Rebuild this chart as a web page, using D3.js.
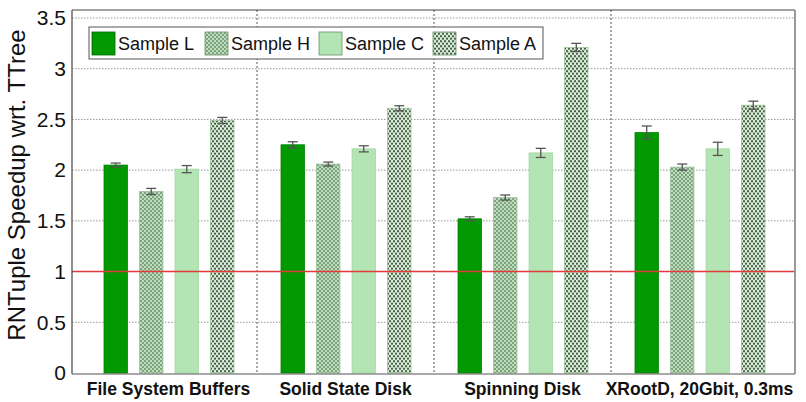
<!DOCTYPE html>
<html>
<head>
<meta charset="utf-8">
<script src="https://cdn.jsdelivr.net/npm/d3@7"></script>
<style>
  html, body { margin: 0; padding: 0; background: #fff; }
  svg { display: block; font-family: "Liberation Sans", Arial, Helvetica, sans-serif; }
</style>
</head>
<body>
<svg id="chart" width="806" height="402"></svg>
<script>
// Storage back-ends (x categories) and sample series
const categories = ["File System Buffers", "Solid State Disk", "Spinning Disk", "XRootD, 20Gbit, 0.3ms"];
const seriesNames = ["Sample L", "Sample H", "Sample C", "Sample A"];

// Speedup per series, one value per category
const sampleL = [2.05, 2.25, 1.52, 2.37];
const sampleH = [1.79, 2.06, 1.73, 2.03];
const sampleC = [2.01, 2.21, 2.17, 2.21];
const sampleA = [2.49, 2.61, 3.21, 2.64];

// Error half-widths per series
const errL = [0.02, 0.03, 0.02, 0.065];
const errH = [0.03, 0.02, 0.025, 0.03];
const errC = [0.035, 0.03, 0.045, 0.065];
const errA = [0.03, 0.025, 0.04, 0.04];

const yTicks = [0, 0.5, 1, 1.5, 2, 2.5, 3, 3.5];
const baseline = 1;

const values = [sampleL, sampleH, sampleC, sampleA];
const errors = [errL, errH, errC, errA];

const svg = d3.select("#chart");
const frame = { left: 72, right: 795, top: 10, bottom: 374 };

const y = d3.scaleLinear().domain([0, 3.5]).range([373, 18]);
const x0 = d3.scaleBand().domain(categories).range([80, 788]).paddingInner(0).paddingOuter(0);
const x1 = d3.scaleBand().domain(seriesNames).range([24, 154]).paddingInner(0.34).paddingOuter(0);

// Fill patterns for the hatched series
const defs = svg.append("defs");
const pH = defs.append("pattern").attr("id", "patH").attr("patternUnits", "userSpaceOnUse")
  .attr("width", 4).attr("height", 4);
pH.append("rect").attr("width", 4).attr("height", 4).attr("fill", "#bfdcbf");
pH.append("circle").attr("cx", 1).attr("cy", 1).attr("r", 0.9).attr("fill", "#5f8a5f");
pH.append("circle").attr("cx", 3).attr("cy", 3).attr("r", 0.9).attr("fill", "#5f8a5f");

const pA = defs.append("pattern").attr("id", "patA").attr("patternUnits", "userSpaceOnUse")
  .attr("width", 4).attr("height", 5);
pA.append("rect").attr("width", 4).attr("height", 5).attr("fill", "#d8ecd8");
pA.append("ellipse").attr("cx", 1).attr("cy", 1.25).attr("rx", 0.95).attr("ry", 1.15).attr("fill", "#304a30");
pA.append("ellipse").attr("cx", 3).attr("cy", 3.75).attr("rx", 0.95).attr("ry", 1.15).attr("fill", "#304a30");

const fills = ["#009a00", "url(#patH)", "#b3e4b3", "url(#patA)"];
const strokes = ["#008000", "#9cc49c", "#a3d8a3", "#9cc49c"];

// Horizontal grid
svg.append("g").selectAll("line").data(yTicks.filter(t => t > 0)).join("line")
  .attr("x1", frame.left).attr("x2", frame.right)
  .attr("y1", d => y(d)).attr("y2", d => y(d))
  .attr("stroke", "#999").attr("stroke-width", 1).attr("stroke-dasharray", "1.5,1.5");

// Vertical dividers between categories
svg.append("g").selectAll("line").data(categories.slice(1)).join("line")
  .attr("x1", d => x0(d)).attr("x2", d => x0(d))
  .attr("y1", frame.top).attr("y2", frame.bottom)
  .attr("stroke", "#555").attr("stroke-width", 1).attr("stroke-dasharray", "2,2");

// Bars
const groups = svg.append("g").selectAll("g").data(categories).join("g")
  .attr("transform", d => `translate(${x0(d)},0)`);

groups.each(function(cat, ci) {
  const g = d3.select(this);
  seriesNames.forEach((s, si) => {
    const v = values[si][ci];
    g.append("rect")
      .attr("x", x1(s)).attr("width", x1.bandwidth())
      .attr("y", y(v)).attr("height", y(0) - y(v))
      .attr("fill", fills[si]).attr("stroke", strokes[si]).attr("stroke-width", 0.8);
  });
});

// Reference line at speedup 1
svg.append("line")
  .attr("x1", frame.left).attr("x2", frame.right)
  .attr("y1", y(baseline)).attr("y2", y(baseline))
  .attr("stroke", "#e23b3b").attr("stroke-width", 1.5);

// Error bars
groups.each(function(cat, ci) {
  const g = d3.select(this);
  seriesNames.forEach((s, si) => {
    const v = values[si][ci], e = errors[si][ci];
    const cx = x1(s) + x1.bandwidth() / 2;
    const eg = g.append("g").attr("stroke", "#555").attr("stroke-width", 1.3);
    eg.append("line").attr("x1", cx).attr("x2", cx).attr("y1", y(v - e)).attr("y2", y(v + e));
    eg.append("line").attr("x1", cx - 5).attr("x2", cx + 5).attr("y1", y(v - e)).attr("y2", y(v - e));
    eg.append("line").attr("x1", cx - 5).attr("x2", cx + 5).attr("y1", y(v + e)).attr("y2", y(v + e));
  });
});

// Frame
svg.append("line").attr("x1", frame.left).attr("x2", frame.right).attr("y1", frame.top).attr("y2", frame.top)
  .attr("stroke", "#444").attr("stroke-width", 1.2);
svg.append("line").attr("x1", frame.left).attr("x2", frame.right).attr("y1", frame.bottom).attr("y2", frame.bottom)
  .attr("stroke", "#555").attr("stroke-width", 1.2);
svg.append("line").attr("x1", frame.left).attr("x2", frame.left).attr("y1", frame.top).attr("y2", frame.bottom)
  .attr("stroke", "#444").attr("stroke-width", 1.2);
svg.append("line").attr("x1", frame.right).attr("x2", frame.right).attr("y1", frame.top).attr("y2", frame.bottom)
  .attr("stroke", "#999").attr("stroke-width", 2);

// Y axis labels
const yAxis = d3.axisLeft(y).tickValues(yTicks).tickSize(0).tickPadding(0)
  .tickFormat(d => d3.format("")(d));
const yg = svg.append("g").attr("transform", `translate(${frame.left - 6},0)`).call(yAxis);
yg.select(".domain").remove();
yg.selectAll("text").attr("font-size", 21).attr("fill", "#111")
  .attr("font-family", "'Liberation Sans', Arial, sans-serif");

svg.append("text")
  .attr("transform", `translate(25,185) rotate(-90)`)
  .attr("text-anchor", "middle").attr("font-size", 24).attr("fill", "#111")
  .text("RNTuple Speedup wrt. TTree");

// X axis labels
const xAxis = d3.axisBottom(x0).tickSize(0).tickPadding(0);
const xg = svg.append("g").attr("transform", `translate(0,${frame.bottom + 6})`).call(xAxis);
xg.select(".domain").remove();
xg.selectAll("text").attr("font-size", 17.5).attr("font-weight", "bold").attr("fill", "#111")
  .attr("font-family", "'Liberation Sans', Arial, sans-serif")
  .attr("dy", "0.85em");

// Legend
const legend = svg.append("g");
legend.append("rect").attr("x", 89).attr("y", 27).attr("width", 454).attr("height", 32)
  .attr("fill", "#fff").attr("stroke", "#555").attr("stroke-width", 1);
const legendX = [92, 205, 319, 433];
seriesNames.forEach((s, i) => {
  legend.append("rect").attr("x", legendX[i]).attr("y", 32).attr("width", 23).attr("height", 23)
    .attr("fill", fills[i]).attr("stroke", i === 0 ? "#006600" : "#6a8f6a").attr("stroke-width", 0.8);
  legend.append("text").attr("x", legendX[i] + 26).attr("y", 43.5).attr("dy", "0.35em")
    .attr("font-size", 18).attr("fill", "#111").text(s);
});
</script>
</body>
</html>
